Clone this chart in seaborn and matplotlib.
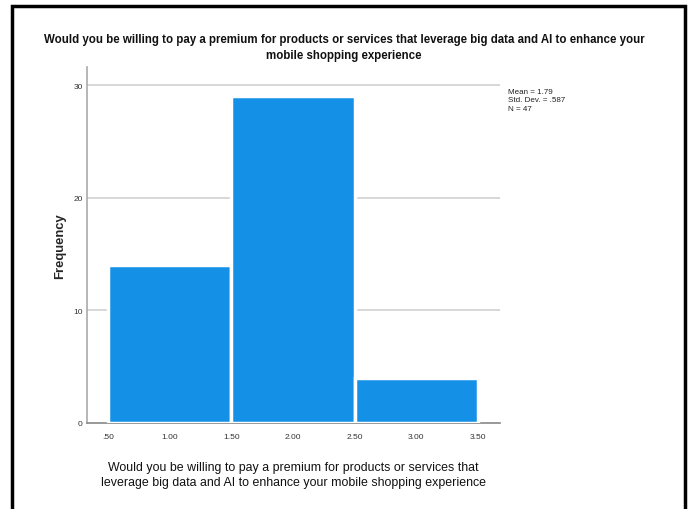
import matplotlib
matplotlib.use('Agg')
import matplotlib.pyplot as plt
import seaborn as sns
import pandas as pd
from matplotlib.patches import Rectangle

# Dados do histograma (respostas 1, 2, 3 e frequências)
valores = [1, 2, 3]
frequencias = [14, 29, 4]
limites = [0.5, 1.5, 2.5, 3.5]
xticks = [0.5, 1.0, 1.5, 2.0, 2.5, 3.0, 3.5]
xtick_labels = ['.50', '1.00', '1.50', '2.00', '2.50', '3.00', '3.50']
yticks = [0, 10, 20, 30]
stats_text = 'Mean = 1.79\nStd. Dev. = .587\nN = 47'

titulo = ('Would you be willing to pay a premium for products or services that leverage big data and AI to enhance your\n'
          'mobile shopping experience')
rotulo_x = ('Would you be willing to pay a premium for products or services that\n'
            'leverage big data and AI to enhance your mobile shopping experience')

df = pd.DataFrame({'valor': valores, 'freq': frequencias})

sns.set_style('white')
plt.rcParams['font.family'] = ['Liberation Sans', 'DejaVu Sans']

fig = plt.figure(figsize=(6.88, 5.10), dpi=100)
ax = fig.add_axes([87 / 688, 1 - 424 / 510, 413 / 688, 356 / 510])

sns.histplot(data=df, x='valor', weights='freq', bins=limites, color='#1490E6',
             alpha=1, edgecolor='white', linewidth=2.5, ax=ax, zorder=3)

ax.set_xlim(0.33, 3.68)
ax.set_ylim(0, 31.6)
ax.set_xticks(xticks)
ax.set_xticklabels(xtick_labels, fontsize=6, color='#333333')
ax.set_yticks(yticks)
ax.set_yticklabels([str(t) for t in yticks], fontsize=6, color='#333333')
ax.tick_params(axis='x', length=0, pad=7)
ax.tick_params(axis='y', length=0, pad=3)

for y in yticks[1:]:
    ax.axhline(y, color='#d4d4d4', lw=1.3, zorder=1)

for side in ['top', 'right']:
    ax.spines[side].set_visible(False)
ax.spines['left'].set_color('#aaaaaa')
ax.spines['bottom'].set_color('#888888')
ax.spines['left'].set_linewidth(1.2)
ax.spines['bottom'].set_linewidth(1.2)

ax.set_ylabel('Frequency', fontsize=9.4, fontweight='bold', labelpad=5)
ax.set_xlabel(rotulo_x, fontsize=8.9, color='#111111', labelpad=15, linespacing=1.35)

fig.text(0.5, 1 - 48 / 510, titulo, ha='center', va='center', fontsize=8.3,
         fontweight='bold', color='#111111', linespacing=1.45)

fig.text(508 / 688, 1 - 89 / 510, stats_text, ha='left', va='top', fontsize=5.8,
         color='#222222', linespacing=1.3)

# Moldura preta em volta da figura
fig.patches.append(Rectangle((12 / 688, -0.05), (685 - 12) / 688, (1 - 7 / 510) + 0.05,
                             transform=fig.transFigure, fill=False, edgecolor='black',
                             linewidth=2.5, zorder=10))

plt.savefig('out.png', dpi=100)
